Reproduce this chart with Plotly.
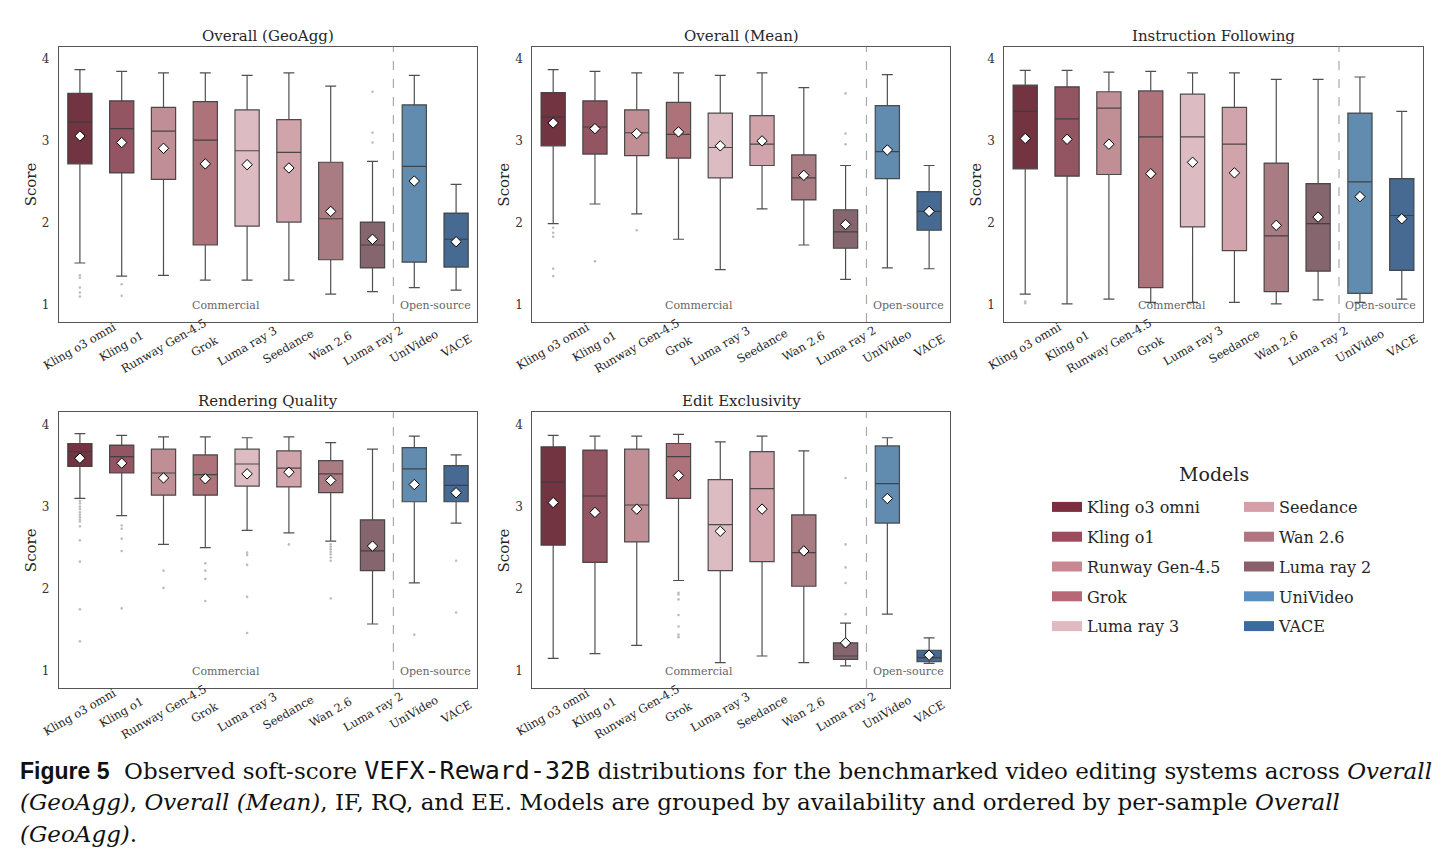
import plotly.graph_objects as go

# ---------------- data ----------------
models = ["Kling o3 omni", "Kling o1", "Runway Gen-4.5", "Grok", "Luma ray 3",
          "Seedance", "Wan 2.6", "Luma ray 2", "UniVideo", "VACE"]
legend_colors = ["#7c2d3f", "#9c4a5c", "#c98791", "#b76775", "#e0b9c1",
                 "#d69ea8", "#b07580", "#8b606c", "#5b8ec0", "#3b6aa0"]
box_colors = ["#733442", "#945563", "#c08e95", "#ae727b", "#dcbcc2",
              "#d1a4ab", "#a87c82", "#86666e", "#628bb0", "#466a92"]

panel_titles = ["Overall (GeoAgg)", "Overall (Mean)", "Instruction Following",
                "Rendering Quality", "Edit Exclusivity"]
y_ticks = [1, 2, 3, 4]

# Overall (GeoAgg)
geo_lo = [1.51, 1.35, 1.36, 1.30, 1.30, 1.30, 1.13, 1.16, 1.21, 1.18]
geo_q1 = [2.72, 2.61, 2.53, 1.73, 1.96, 2.01, 1.55, 1.45, 1.52, 1.46]
geo_med = [3.23, 3.15, 3.12, 3.01, 2.88, 2.86, 2.05, 1.73, 2.69, 1.80]
geo_q3 = [3.58, 3.49, 3.41, 3.48, 3.38, 3.26, 2.74, 2.01, 3.44, 2.12]
geo_hi = [3.87, 3.85, 3.83, 3.83, 3.80, 3.83, 3.67, 2.75, 3.80, 2.47]
geo_mean = [3.06, 2.98, 2.91, 2.72, 2.71, 2.67, 2.14, 1.80, 2.51, 1.77]
geo_out = [[1.36, 1.33, 1.21, 1.15, 1.10], [1.25, 1.11], [], [], [], [], [],
           [3.60, 3.10, 2.98], [], []]

# Overall (Mean)
mean_lo = [1.99, 2.23, 2.11, 1.80, 1.43, 2.17, 1.73, 1.31, 1.45, 1.44]
mean_q1 = [2.94, 2.84, 2.82, 2.79, 2.55, 2.70, 2.28, 1.69, 2.54, 1.91]
mean_med = [3.29, 3.17, 3.10, 3.08, 2.92, 2.96, 2.55, 1.89, 2.87, 2.14]
mean_q3 = [3.59, 3.49, 3.38, 3.47, 3.34, 3.31, 2.83, 2.16, 3.43, 2.38]
mean_hi = [3.87, 3.85, 3.83, 3.83, 3.80, 3.83, 3.65, 2.70, 3.81, 2.70]
mean_mean = [3.22, 3.15, 3.09, 3.11, 2.94, 3.00, 2.58, 1.98, 2.89, 2.14]
mean_out = [[1.94, 1.88, 1.83, 1.44, 1.35], [1.53], [1.91], [], [], [], [],
            [3.58, 3.09, 2.96], [], []]

# Instruction Following
if_lo = [1.13, 1.01, 1.07, 1.03, 1.03, 1.03, 1.01, 1.06, 1.03, 1.07]
if_q1 = [2.66, 2.57, 2.59, 1.21, 1.95, 1.66, 1.16, 1.41, 1.14, 1.42]
if_med = [3.36, 3.27, 3.40, 3.05, 3.05, 2.96, 1.84, 1.99, 2.50, 2.09]
if_q3 = [3.68, 3.66, 3.60, 3.61, 3.57, 3.41, 2.73, 2.48, 3.34, 2.54]
if_hi = [3.86, 3.86, 3.84, 3.85, 3.83, 3.83, 3.75, 3.75, 3.78, 3.36]
if_mean = [3.03, 3.02, 2.96, 2.60, 2.74, 2.61, 1.97, 2.07, 2.32, 2.05]
if_out = [[1.04, 1.02], [], [], [], [], [], [], [], [], []]

# Rendering Quality
rq_lo = [3.10, 2.89, 2.54, 2.50, 2.71, 2.68, 2.58, 1.57, 2.07, 2.80]
rq_q1 = [3.49, 3.41, 3.14, 3.14, 3.25, 3.24, 3.17, 2.22, 3.06, 3.06]
rq_med = [3.67, 3.61, 3.41, 3.39, 3.52, 3.47, 3.40, 2.46, 3.46, 3.26]
rq_q3 = [3.77, 3.75, 3.70, 3.63, 3.70, 3.68, 3.56, 2.84, 3.72, 3.50]
rq_hi = [3.89, 3.87, 3.85, 3.85, 3.84, 3.85, 3.78, 3.70, 3.86, 3.63]
rq_mean = [3.59, 3.53, 3.35, 3.34, 3.40, 3.42, 3.32, 2.52, 3.27, 3.17]
rq_out = [[3.07, 3.04, 3.00, 2.97, 2.93, 2.90, 2.87, 2.84, 2.82, 2.76, 2.59, 2.33, 1.75, 1.36],
          [2.77, 2.73, 2.61, 2.46, 1.76],
          [2.22, 2.01],
          [2.31, 2.22, 2.12, 1.85],
          [2.44, 2.41, 2.29, 1.90, 1.46],
          [2.54],
          [2.54, 2.51, 2.48, 2.45, 2.42, 2.38, 2.34, 1.88],
          [],
          [1.44],
          [2.34, 1.71]]

# Edit Exclusivity
ee_lo = [1.15, 1.21, 1.31, 2.10, 1.10, 1.18, 1.10, 1.06, 1.69, 1.09]
ee_q1 = [2.53, 2.32, 2.57, 3.10, 2.22, 2.33, 2.03, 1.14, 2.80, 1.11]
ee_med = [3.30, 3.13, 3.02, 3.61, 2.78, 3.22, 2.44, 1.18, 3.28, 1.16]
ee_q3 = [3.73, 3.69, 3.70, 3.77, 3.33, 3.67, 2.90, 1.34, 3.74, 1.25]
ee_hi = [3.87, 3.86, 3.86, 3.88, 3.79, 3.86, 3.68, 1.58, 3.84, 1.40]
ee_mean = [3.05, 2.93, 2.97, 3.38, 2.70, 2.97, 2.46, 1.34, 3.10, 1.19]
ee_out = [[], [], [], [1.95, 1.93, 1.87, 1.68, 1.54, 1.44, 1.41], [], [], [],
          [3.35, 2.54, 2.26, 2.07, 1.69], [], []]

panels = [
    (geo_lo, geo_q1, geo_med, geo_q3, geo_hi, geo_mean, geo_out),
    (mean_lo, mean_q1, mean_med, mean_q3, mean_hi, mean_mean, mean_out),
    (if_lo, if_q1, if_med, if_q3, if_hi, if_mean, if_out),
    (rq_lo, rq_q1, rq_med, rq_q3, rq_hi, rq_mean, rq_out),
    (ee_lo, ee_q1, ee_med, ee_q3, ee_hi, ee_mean, ee_out),
]
group_labels = ["Commercial", "Open-source"]

# ---------------- layout geometry ----------------
W, H = 1444, 865
FONT = "DejaVu Serif"
x_domains = [(59 / W, 477 / W), (532.3 / W, 950 / W), (1004.3 / W, 1422.7 / W)]
y_domains = [(1 - 322 / H, 1 - 46.7 / H), (1 - 688 / H, 1 - 412.3 / H)]
cells = [(0, 0), (0, 1), (0, 2), (1, 0), (1, 1)]

fig = go.Figure()
annotations = []
shapes = []
layout_axes = {}

for p, (row, col) in enumerate(cells):
    lo, q1, med, q3, hi, mn, out = panels[p]
    xa = "x" if p == 0 else f"x{p + 1}"
    ya = "y" if p == 0 else f"y{p + 1}"
    xkey = "xaxis" if p == 0 else f"xaxis{p + 1}"
    ykey = "yaxis" if p == 0 else f"yaxis{p + 1}"
    # outliers
    ox, oy = [], []
    for i, m in enumerate(models):
        for v in out[i]:
            ox.append(m)
            oy.append(v)
    fig.add_trace(go.Scatter(x=ox, y=oy, mode="markers", xaxis=xa, yaxis=ya,
                             marker=dict(size=2.6, color="#bdbdbd"),
                             showlegend=False, hoverinfo="skip"))
    for i, m in enumerate(models):
        fig.add_trace(go.Box(
            x=[m], q1=[q1[i]], median=[med[i]], q3=[q3[i]],
            lowerfence=[lo[i]], upperfence=[hi[i]],
            xaxis=xa, yaxis=ya, name=m, legendgroup=m, showlegend=False,
            fillcolor=box_colors[i],
            line=dict(color="rgba(60,60,60,0.9)", width=1.2),
            width=0.58, whiskerwidth=0.45, boxpoints=False,
        ))
    fig.add_trace(go.Scatter(x=models, y=mn, mode="markers", xaxis=xa, yaxis=ya,
                             marker=dict(symbol="diamond", size=8, color="white",
                                         line=dict(color="black", width=1)),
                             showlegend=False, hoverinfo="skip"))

    xd = x_domains[col]
    yd = y_domains[row]
    layout_axes[xkey] = dict(domain=list(xd), anchor=ya, type="category",
                             categoryorder="array", categoryarray=models,
                             range=[-0.5, 9.5], showticklabels=False, ticks="",
                             showgrid=False, zeroline=False, showline=True,
                             mirror=True, linecolor="#555555", linewidth=1.2)
    layout_axes[ykey] = dict(domain=list(yd), anchor=xa, range=[0.79, 4.15],
                             tickvals=y_ticks, ticks="", showgrid=False,
                             zeroline=False, showline=True, mirror=True,
                             linecolor="#555555", linewidth=1.2,
                             ticklabelstandoff=6,
                             tickfont=dict(family=FONT, size=12, color="#333333"))

    x_left_px = xd[0] * W
    x_mid = (xd[0] + xd[1]) / 2
    top_px = (1 - yd[1]) * H
    bot_px = (1 - yd[0]) * H
    # title
    annotations.append(dict(text=panel_titles[p], xref="paper", yref="paper",
                            x=x_mid, y=1 - top_px / H, xanchor="center",
                            yanchor="bottom", showarrow=False,
                            font=dict(family=FONT, size=15, color="#262626")))
    # y-axis title
    annotations.append(dict(text="Score", xref="paper", yref="paper",
                            x=(x_left_px - 28) / W, y=(yd[0] + yd[1]) / 2,
                            textangle=-90, xanchor="center", yanchor="middle",
                            showarrow=False,
                            font=dict(family=FONT, size=15, color="#262626")))
    # rotated, centred category labels
    for m in models:
        annotations.append(dict(text=m, xref=xa, yref="paper", x=m,
                                y=1 - (bot_px + 24) / H, textangle=-30,
                                xanchor="center", yanchor="middle",
                                showarrow=False,
                                font=dict(family=FONT, size=11.5, color="#262626")))
    # group labels
    annotations.append(dict(text=group_labels[0], xref=xa, yref=f"{ya} domain",
                            x=3.5, y=0.061, xanchor="center", yanchor="middle",
                            showarrow=False,
                            font=dict(family=FONT, size=11, color="#666666")))
    annotations.append(dict(text=group_labels[1], xref=xa, yref=f"{ya} domain",
                            x=8.5, y=0.061, xanchor="center", yanchor="middle",
                            showarrow=False,
                            font=dict(family=FONT, size=11, color="#666666")))
    shapes.append(dict(type="line", xref=xa, yref=f"{ya} domain", x0=7.5, x1=7.5,
                       y0=0, y1=1, line=dict(color="#aaaaaa", width=1.2, dash="dash")))

# legend entries (two columns = two legends)
for i, m in enumerate(models):
    fig.add_trace(go.Scatter(x=[None], y=[None], mode="lines", name=m,
                             legendgroup=m, legend="legend" if i < 5 else "legend2",
                             line=dict(color=legend_colors[i], width=10),
                             hoverinfo="skip"))

annotations.append(dict(text="Models", xref="paper", yref="paper",
                        x=1214 / W, y=1 - 474 / H, xanchor="center",
                        yanchor="middle", showarrow=False,
                        font=dict(family=FONT, size=19, color="#262626")))

# caption
cap_font = dict(family=FONT, size=23, color="#111111")
cap_lines = [
    '<b><span style="font-family:Liberation Sans">Figure 5</span></b>  Observed soft-score '
    '<span style="font-family:DejaVu Sans Mono;font-size:25px">VEFX-Reward-32B</span> distributions '
    'for the benchmarked video editing systems across <i>Overall</i>',
    '<i>(GeoAgg)</i>, <i>Overall (Mean)</i>, IF, RQ, and EE. Models are grouped by availability '
    'and ordered by per-sample <i>Overall</i>',
    '<i>(GeoAgg)</i>.',
]
for k, line in enumerate(cap_lines):
    annotations.append(dict(text=line, xref="paper", yref="paper", x=18 / W,
                            y=1 - (770 + 32 * k) / H, xanchor="left",
                            yanchor="middle", showarrow=False, font=cap_font))

leg_common = dict(orientation="v", xanchor="left", yanchor="top",
                  font=dict(family=FONT, size=16, color="#262626"),
                  bgcolor="rgba(0,0,0,0)", borderwidth=0, tracegroupgap=6,
                  itemclick=False, itemdoubleclick=False)
fig.update_layout(
    width=W, height=H, margin=dict(l=0, r=0, t=0, b=0),
    paper_bgcolor="white", plot_bgcolor="white",
    showlegend=True,
    legend=dict(x=1047 / W, y=1 - 490 / H, **leg_common),
    legend2=dict(x=1239 / W, y=1 - 490 / H, **leg_common),
    annotations=annotations, shapes=shapes,
    font=dict(family=FONT),
    **layout_axes,
)

fig.write_html("out.html")
